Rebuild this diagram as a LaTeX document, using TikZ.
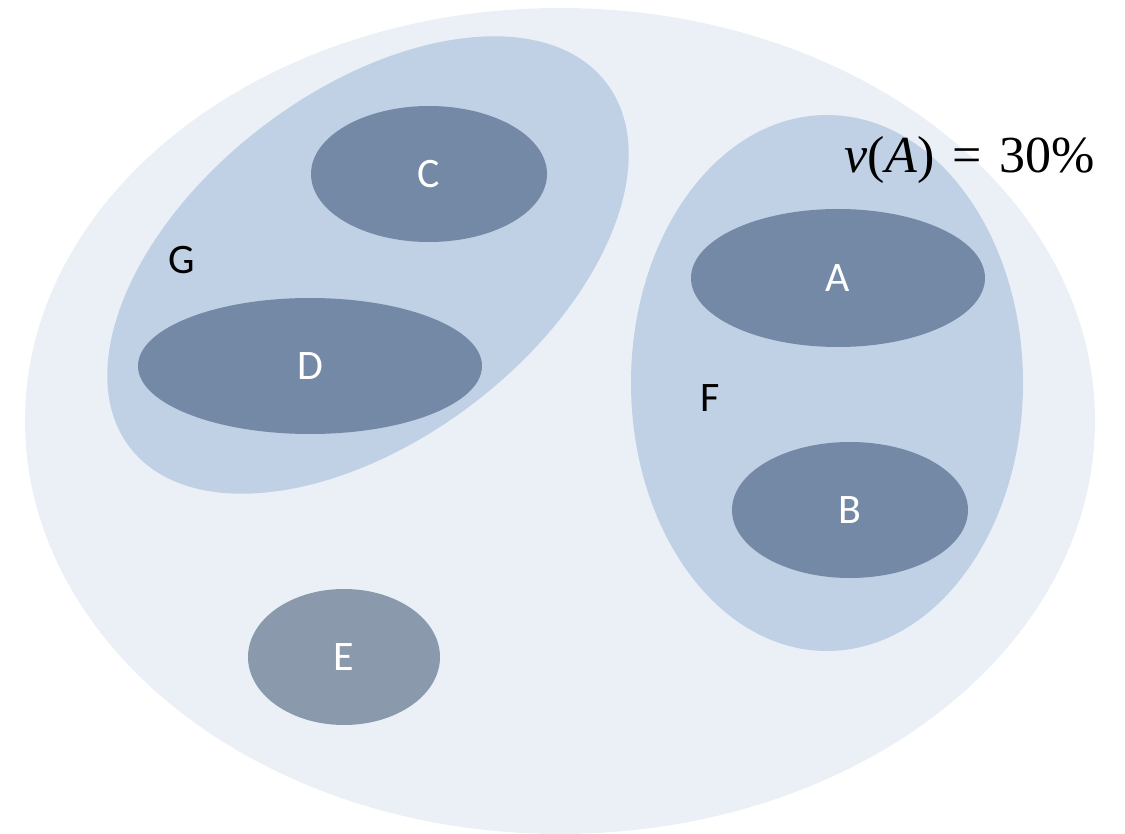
\documentclass[tikz,border=0pt]{standalone}
\usepackage{fontspec}
\setmainfont{Carlito}
\newfontfamily\mathserif{Liberation Serif}
\usetikzlibrary{shapes.geometric}
\definecolor{outerc}{HTML}{EBF0F7}
\definecolor{groupc}{HTML}{C0D1E6}
\definecolor{setc}{HTML}{7389A5}
\definecolor{setE}{HTML}{8A9AAC}
\tikzset{
  blob/.style={ellipse, inner sep=0pt, draw=none},
  setnode/.style={blob, fill=setc, text=white, font=\fontsize{42}{50}\selectfont},
  grouplabel/.style={inner sep=0pt, text=black, font=\fontsize{42}{50}\selectfont}
}
\begin{document}
\begin{tikzpicture}[x=1pt,y=-1pt]
\useasboundingbox (0,0) rectangle (1125,834);
\begin{scope}
\clip (0,0) rectangle (1125,834);
\node[blob, fill=outerc, minimum width=1070pt, minimum height=826pt] (U) at (560,421) {};
\end{scope}
\node[blob, fill=groupc, minimum width=600pt, minimum height=348pt, rotate=37.4] (Gs) at (368,265) {};
\node[blob, fill=groupc, minimum width=392pt, minimum height=536pt] (Fs) at (827,383) {};
\node[setnode, minimum width=236pt, minimum height=136pt] (C) at (429,174) {C};
\node[setnode, minimum width=344pt, minimum height=136pt] (D) at (310,366) {D};
\node[setnode, minimum width=294pt, minimum height=138pt] (A) at (838,278) {A};
\node[setnode, minimum width=236pt, minimum height=136pt] (B) at (850,510) {B};
\node[setnode, fill=setE, minimum width=192pt, minimum height=136pt] (E) at (344,657) {E};
\node[grouplabel] (G) at (182,260) {G};
\node[grouplabel] (F) at (710,398) {F};
\node[inner sep=0pt, font=\fontsize{52}{62}\mathserif] (v) at (970,160) {\textit{v}(\textit{A})\hspace{18pt}=\hspace{18pt}30\%};
\end{tikzpicture}
\end{document}
